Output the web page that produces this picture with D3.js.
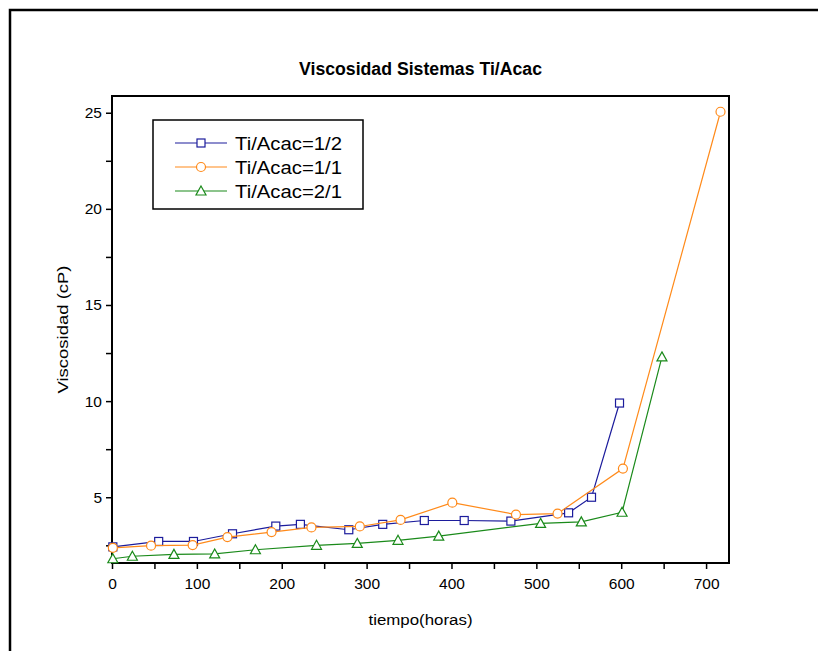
<!DOCTYPE html>
<html>
<head>
<meta charset="utf-8">
<script src="https://cdnjs.cloudflare.com/ajax/libs/d3/7.8.5/d3.min.js"></script>
<style>
  body { margin: 0; background: #fff; }
  svg text { font-family: "Liberation Sans", Arial, sans-serif; }
</style>
</head>
<body>
<div class="wrapper"></div>
<script>
// chart values
var seriesNames = ["Ti/Acac=1/2", "Ti/Acac=1/1", "Ti/Acac=2/1"];
var seriesColors = ["#1c1c9c", "#ff8a1a", "#1a8a1a"];
var seriesMarkers = ["square", "circle", "triangle"];

var timeA = [1, 55, 96, 142, 193, 222, 279, 319, 368, 415, 470, 538, 565, 598];
var viscA = [2.42, 2.70, 2.70, 3.10, 3.50, 3.59, 3.31, 3.59, 3.79, 3.79, 3.76, 4.19, 5.0, 9.9];

var timeB = [1, 46, 95, 136, 188, 235, 292, 340, 401, 476, 525, 602, 717];
var viscB = [2.37, 2.48, 2.51, 2.93, 3.19, 3.43, 3.48, 3.82, 4.72, 4.10, 4.15, 6.49, 25.05];

var timeC = [1, 24, 73, 121, 169, 241, 289, 337, 385, 505, 553, 601, 648];
var viscC = [1.80, 1.93, 2.03, 2.05, 2.27, 2.50, 2.60, 2.76, 2.98, 3.64, 3.72, 4.22, 12.3];

var xTicks = [0, 100, 200, 300, 400, 500, 600, 700];
var yTicks = [5, 10, 15, 20, 25];

var titleText = "Viscosidad Sistemas Ti/Acac";
var xLabel = "tiempo(horas)";
var yLabel = "Viscosidad (cP)";

// layout
var ultimatew = 818,
  ultimateh = 651,
  margin = { top: 96, right: 89, bottom: 88, left: 112 },
  width = ultimatew - margin.left - margin.right,
  height = ultimateh - margin.top - margin.bottom;

var series = [
  { name: seriesNames[0], color: seriesColors[0], marker: seriesMarkers[0], pts: d3.zip(timeA, viscA) },
  { name: seriesNames[1], color: seriesColors[1], marker: seriesMarkers[1], pts: d3.zip(timeB, viscB) },
  { name: seriesNames[2], color: seriesColors[2], marker: seriesMarkers[2], pts: d3.zip(timeC, viscC) }
];

var root = d3
  .select(".wrapper")
  .append("svg")
  .attr("width", ultimatew)
  .attr("height", ultimateh);

// outer frame, runs off the right and bottom edge
root
  .append("rect")
  .attr("x", 10)
  .attr("y", 10)
  .attr("width", 830)
  .attr("height", 660)
  .attr("fill", "none")
  .attr("stroke", "#000")
  .attr("stroke-width", 2.5);

var svg = root
  .append("g")
  .attr("transform", "translate(" + margin.left + "," + margin.top + ")");

var x = d3.scaleLinear().domain([0, 727]).range([0, width]);
var y = d3.scaleLinear().domain([1.58, 25.87]).range([height, 0]);

// x axis
var xAxis = svg
  .append("g")
  .attr("class", "axis")
  .attr("transform", "translate(0," + height + ")")
  .call(
    d3.axisBottom(x)
      .tickValues(d3.range(0, 727, 50))
      .tickSize(6)
      .tickFormat(function(d) { return xTicks.indexOf(d) >= 0 ? d : ""; })
  );

// y axis
var yAxis = svg
  .append("g")
  .attr("class", "axis")
  .call(
    d3.axisLeft(y)
      .tickValues(d3.range(2.5, 25.9, 2.5))
      .tickSize(6)
      .tickFormat(function(d) { return yTicks.indexOf(d) >= 0 ? d : ""; })
  );

[xAxis, yAxis].forEach(function(a) {
  a.select(".domain").remove();
  a.selectAll(".tick line").attr("stroke", "#000").attr("stroke-width", 1.5);
  a.selectAll(".tick text")
    .attr("fill", "#000")
    .style("font-size", "15.5px");
});
xAxis.selectAll(".tick text").attr("dy", "1.1em");
yAxis.selectAll(".tick text").attr("x", -10);

// plot box
svg
  .append("rect")
  .attr("width", width)
  .attr("height", height)
  .attr("fill", "none")
  .attr("stroke", "#000")
  .attr("stroke-width", 2);

// draw markers
function drawMarker(g, type, color) {
  if (type === "square") {
    g.append("rect")
      .attr("x", -4).attr("y", -4)
      .attr("width", 8).attr("height", 8);
  } else if (type === "circle") {
    g.append("circle").attr("r", 4.5);
  } else {
    g.append("path").attr("d", "M0,-5L5,4L-5,4Z");
  }
  g.selectAll("*")
    .attr("fill", "#fff")
    .attr("stroke", color)
    .attr("stroke-width", 1.2);
}

var line = d3
  .line()
  .x(function(d) { return x(d[0]); })
  .y(function(d) { return y(d[1]); });

series.forEach(function(s) {
  var g = svg.append("g");
  g.append("path")
    .datum(s.pts)
    .attr("d", line)
    .attr("fill", "none")
    .attr("stroke", s.color)
    .attr("stroke-width", 1.2);
  g.selectAll(".pt")
    .data(s.pts)
    .enter()
    .append("g")
    .attr("class", "pt")
    .attr("transform", function(d) { return "translate(" + x(d[0]) + "," + y(d[1]) + ")"; })
    .each(function() { drawMarker(d3.select(this), s.marker, s.color); });
});

// title and labels
root
  .append("text")
  .attr("x", margin.left + width / 2)
  .attr("y", 75)
  .attr("text-anchor", "middle")
  .attr("textLength", 243)
  .attr("lengthAdjust", "spacingAndGlyphs")
  .style("font-size", "17.5px")
  .style("font-weight", "bold")
  .text(titleText);

root
  .append("text")
  .attr("x", margin.left + width / 2)
  .attr("y", 625)
  .attr("text-anchor", "middle")
  .attr("textLength", 104)
  .attr("lengthAdjust", "spacingAndGlyphs")
  .style("font-size", "15.5px")
  .text(xLabel);

root
  .append("text")
  .attr("transform", "translate(68," + (margin.top + height / 2) + ") rotate(-90)")
  .attr("text-anchor", "middle")
  .attr("textLength", 128)
  .attr("lengthAdjust", "spacingAndGlyphs")
  .style("font-size", "15.5px")
  .text(yLabel);

// legend
var legend = root.append("g").attr("transform", "translate(153,120)");
legend
  .append("rect")
  .attr("width", 210)
  .attr("height", 89)
  .attr("fill", "#fff")
  .attr("stroke", "#000")
  .attr("stroke-width", 1.5);

series.forEach(function(s, i) {
  var row = legend.append("g").attr("transform", "translate(0," + (23 + i * 24) + ")");
  row.append("line")
    .attr("x1", 22).attr("x2", 74)
    .attr("stroke", s.color)
    .attr("stroke-width", 1.2);
  var m = row.append("g").attr("transform", "translate(48,0)");
  drawMarker(m, s.marker, s.color);
  row.append("text")
    .attr("x", 82)
    .attr("y", 6.5)
    .attr("textLength", 107)
    .attr("lengthAdjust", "spacingAndGlyphs")
    .style("font-size", "17.5px")
    .text(s.name);
});
</script>
</body>
</html>
